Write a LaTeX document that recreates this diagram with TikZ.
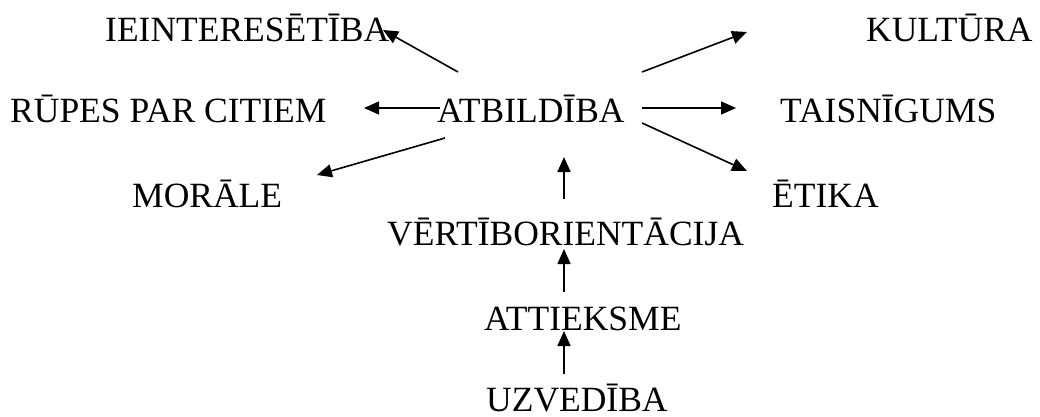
\documentclass[tikz,border=0pt]{standalone}
\usepackage{fontspec}
\setmainfont{Liberation Serif}
\usetikzlibrary{arrows.meta}
\begin{document}
\begin{tikzpicture}[x=1pt,y=-1pt,
  lbl/.style={anchor=base west,inner sep=0pt,font=\fontsize{35.5pt}{40pt}\selectfont},
  arr/.style={line width=1.6pt,-{Triangle[length=15pt,width=13pt]}}]
\useasboundingbox (0,0) rectangle (1040,417);
\node[lbl] (ie) at (105,42) {IEINTERESĒTĪBA};
\node[lbl] (ku) at (866,42) {KULTŪRA};
\node[lbl] (ru) at (10,122) {RŪPES PAR CITIEM};
\node[lbl] (atb) at (437,122) {ATBILDĪBA};
\node[lbl] (ta) at (780,122) {TAISNĪGUMS};
\node[lbl] (mo) at (132,207) {MORĀLE};
\node[lbl] (et) at (772,207) {ĒTIKA};
\node[lbl] (ve) at (387,245) {VĒRTĪBORIENTĀCIJA};
\node[lbl] (at) at (484,330) {ATTIEKSME};
\node[lbl] (uz) at (486,411) {UZVEDĪBA};
% arrow end points
\coordinate (a1s) at (458,72);  \coordinate (a1e) at (383,30);
\coordinate (a2s) at (440,108); \coordinate (a2e) at (364,108);
\coordinate (a3s) at (445,138); \coordinate (a3e) at (317,175);
\coordinate (a4s) at (642,72);  \coordinate (a4e) at (747,32);
\coordinate (a5s) at (642,108); \coordinate (a5e) at (736,108);
\coordinate (a6s) at (642,123); \coordinate (a6e) at (747,171);
\coordinate (a7s) at (564,199); \coordinate (a7e) at (564,157);
\coordinate (a8s) at (564,292); \coordinate (a8e) at (564,249);
\coordinate (a9s) at (564,374); \coordinate (a9e) at (564,331);
\draw[arr] (a1s) -- (a1e);
\draw[arr] (a2s) -- (a2e);
\draw[arr] (a3s) -- (a3e);
\draw[arr] (a4s) -- (a4e);
\draw[arr] (a5s) -- (a5e);
\draw[arr] (a6s) -- (a6e);
\draw[arr] (a7s) -- (a7e);
\draw[arr] (a8s) -- (a8e);
\draw[arr] (a9s) -- (a9e);
\end{tikzpicture}
\end{document}
